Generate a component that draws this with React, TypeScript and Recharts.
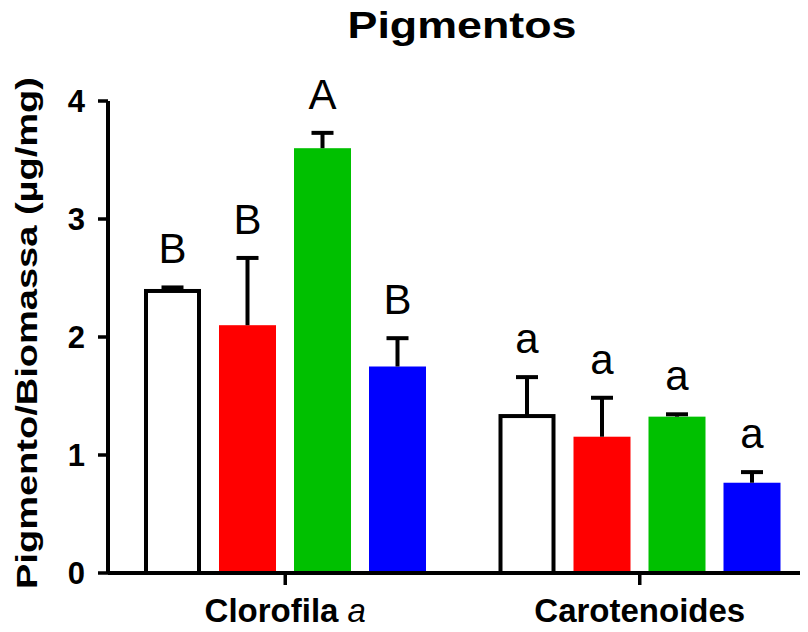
import React from 'react';
import { BarChart, Bar, XAxis, YAxis } from 'recharts';

// Pigment content per biomass, mean and SD for each light treatment
const categorias = ['Clorofila', 'Carotenoides'];
const categoriasItalico = ['a', ''];

const brancoMedia = [2.39, 1.33];
const brancoDP = [0.03, 0.33];
const brancoLetra = ['B', 'a'];

const vermelhoMedia = [2.1, 1.155];
const vermelhoDP = [0.57, 0.33];
const vermelhoLetra = ['B', 'a'];

const verdeMedia = [3.6, 1.325];
const verdeDP = [0.13, 0.02];
const verdeLetra = ['A', 'a'];

const azulMedia = [1.75, 0.765];
const azulDP = [0.24, 0.09];
const azulLetra = ['B', 'a'];

const yTicks = [0, 1, 2, 3, 4];

const FONT = '"Liberation Sans", Arial, Helvetica, sans-serif';

const dados = categorias.map((c, i) => ({
  categoria: c,
  italico: categoriasItalico[i],
  branco: brancoMedia[i],
  brancoDP: brancoDP[i],
  brancoLetra: brancoLetra[i],
  vermelho: vermelhoMedia[i],
  vermelhoDP: vermelhoDP[i],
  vermelhoLetra: vermelhoLetra[i],
  verde: verdeMedia[i],
  verdeDP: verdeDP[i],
  verdeLetra: verdeLetra[i],
  azul: azulMedia[i],
  azulDP: azulDP[i],
  azulLetra: azulLetra[i],
}));

// Bar with an upward SD whisker and a significance letter above it
const makeShape = (key: string, fill: string, outlined: boolean) => (props: any) => {
  const { x, y, width, height, payload } = props;
  const mean = payload[key];
  const sd = payload[key + 'DP'];
  const letter = payload[key + 'Letra'];
  const pxPerUnit = height / mean;
  const errTop = y - sd * pxPerUnit;
  const cx = x + width / 2;
  return (
    <g>
      {outlined ? (
        <rect x={x + 2} y={y} width={width - 4} height={height} fill="#ffffff" stroke="#000" strokeWidth={4} />
      ) : (
        <rect x={x} y={y} width={width} height={height} fill={fill} />
      )}
      <line x1={cx} x2={cx} y1={y} y2={errTop} stroke="#000" strokeWidth={4} />
      <line x1={cx - 11} x2={cx + 11} y1={errTop} y2={errTop} stroke="#000" strokeWidth={4} />
      <text x={cx} y={errTop - 24} textAnchor="middle" fontSize={42} fontFamily={FONT} fill="#000">
        {letter}
      </text>
    </g>
  );
};

const YTick = (props: any) => {
  const { x, y, payload } = props;
  return (
    <text x={x} y={y} textAnchor="end" dy="0.36em" fontSize={31} fontWeight="bold" fontFamily={FONT} fill="#000">
      {payload.value}
    </text>
  );
};

const XTick = (props: any) => {
  const { x, y, payload, index } = props;
  const it = dados[index] ? dados[index].italico : '';
  return (
    <text x={x} y={y + 37} textAnchor="middle" fontSize={33} fontWeight="bold" fontFamily={FONT} fill="#000">
      {payload.value}
      {it ? (
        <tspan fontStyle="italic" fontWeight="normal">{' ' + it}</tspan>
      ) : null}
    </text>
  );
};

const YLabel = (props: any) => {
  const { viewBox } = props;
  const cy = viewBox.y + viewBox.height / 2 - 4;
  return (
    <text
      transform={`translate(37,${cy}) rotate(-90)`}
      textAnchor="middle"
      fontSize={30}
      fontWeight="bold"
      fontFamily={FONT}
      fill="#000"
      textLength={512}
      lengthAdjust="spacingAndGlyphs"
    >
      Pigmento/Biomassa (µg/mg)
    </text>
  );
};

export default function App() {
  return (
    <div style={{ position: 'relative', width: 808, height: 632, margin: '-8px 0 0 -8px', overflow: 'hidden', background: '#fff' }}>
      <svg width={808} height={80} style={{ position: 'absolute', left: 0, top: 0 }}>
        <text
          x={462}
          y={38}
          textAnchor="middle"
          fontSize={37}
          fontWeight="bold"
          fontFamily={FONT}
          fill="#000"
          textLength={229}
          lengthAdjust="spacingAndGlyphs"
        >
          Pigmentos
        </text>
      </svg>
      <BarChart
        width={817}
        height={632}
        data={dados}
        margin={{ top: 101, right: 0, bottom: 0, left: 0 }}
        barSize={57}
        barGap={18}
      >
        <XAxis
          dataKey="categoria"
          height={59}
          axisLine={{ stroke: '#000', strokeWidth: 4 }}
          tickLine={{ stroke: '#000', strokeWidth: 3.5 }}
          tickSize={12}
          tickMargin={0}
          tick={<XTick />}
        />
        <YAxis
          width={108}
          domain={[0, 4]}
          ticks={yTicks}
          axisLine={{ stroke: '#000', strokeWidth: 4 }}
          tickLine={{ stroke: '#000', strokeWidth: 3.5 }}
          tickSize={10}
          tickMargin={13}
          tick={<YTick />}
          label={<YLabel />}
        />
        <Bar dataKey="branco" shape={makeShape('branco', '#ffffff', true)} isAnimationActive={false} />
        <Bar dataKey="vermelho" shape={makeShape('vermelho', '#ff0000', false)} isAnimationActive={false} />
        <Bar dataKey="verde" shape={makeShape('verde', '#00c000', false)} isAnimationActive={false} />
        <Bar dataKey="azul" shape={makeShape('azul', '#0000ff', false)} isAnimationActive={false} />
      </BarChart>
    </div>
  );
}
